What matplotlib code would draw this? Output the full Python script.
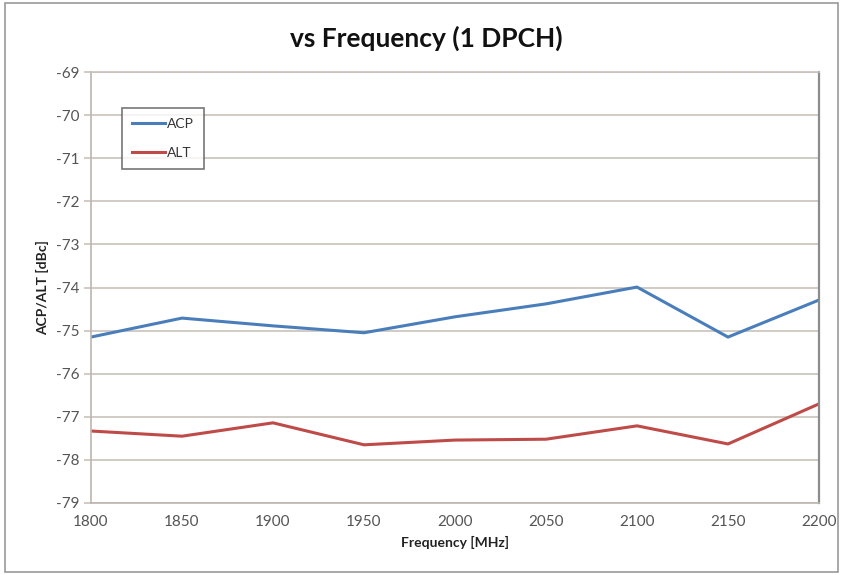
import matplotlib
matplotlib.use("Agg")
import matplotlib.pyplot as plt
from matplotlib.patches import Rectangle

freq = [1800, 1850, 1900, 1950, 2000, 2050, 2100, 2150, 2200]
acp = [-75.15, -74.71, -74.89, -75.05, -74.68, -74.38, -73.99, -75.15, -74.29]
alt = [-77.33, -77.45, -77.14, -77.65, -77.54, -77.52, -77.21, -77.63, -76.70]
yticks = list(range(-79, -68))
xticks = freq

plt.rcParams['font.family'] = ['Lato', 'DejaVu Sans']
plt.rcParams['axes.unicode_minus'] = False

fig = plt.figure(figsize=(8.45, 5.75), dpi=100)
ax = fig.add_axes([91/845, 1-503/575, (819-91)/845, (503-72)/575])

grid_c = '#c9c2bc'
ax.set_xlim(1800, 2200)
ax.set_ylim(-79, -69)
ax.set_yticks(yticks)
ax.set_xticks(xticks)
ax.yaxis.grid(True, color=grid_c, linewidth=1.2)
ax.set_axisbelow(True)

ax.plot(freq, acp, color='#4a7ebb', linewidth=2.2, label='ACP')
ax.plot(freq, alt, color='#be4b48', linewidth=2.2, label='ALT')

ax.spines['top'].set_color(grid_c)
ax.spines['top'].set_linewidth(1.2)
ax.spines['left'].set_color('#bdb5ae')
ax.spines['left'].set_linewidth(1.2)
ax.spines['bottom'].set_color('#bdb5ae')
ax.spines['bottom'].set_linewidth(1.2)
ax.spines['right'].set_color('#8c8c8c')
ax.spines['right'].set_linewidth(1.6)

ax.tick_params(axis='y', length=5, color=grid_c, width=1.2, labelsize=11,
               labelcolor='#555555', pad=3)
ax.tick_params(axis='x', length=0, labelsize=11, labelcolor='#555555', pad=9)

ax.set_xlabel('Frequency [MHz]', fontsize=10, fontweight='bold', color='#222222', labelpad=5)
ax.set_ylabel('ACP/ALT [dBc]', fontsize=10, fontweight='bold', color='#222222', labelpad=5)

fig.suptitle('vs Frequency (1 DPCH)', x=0.505, y=1-38/575, va='center',
             fontsize=19, fontweight='bold', color='#111111')

leg = ax.legend(loc='upper left', bbox_to_anchor=((122-91)/728, 1-(108-72)/431),
                fontsize=10, frameon=True, fancybox=False, edgecolor='#555555',
                handlelength=2.4, handletextpad=0.15, labelspacing=1.25,
                borderpad=0.7, borderaxespad=0)
leg.get_frame().set_linewidth(1.2)
for t in leg.get_texts():
    t.set_color('#333333')

fig.patches.append(Rectangle((5/845, 3/575), 833/845, 569/575, transform=fig.transFigure,
                             fill=False, edgecolor='#999999', linewidth=1.2))

fig.savefig('out.png', dpi=100)
